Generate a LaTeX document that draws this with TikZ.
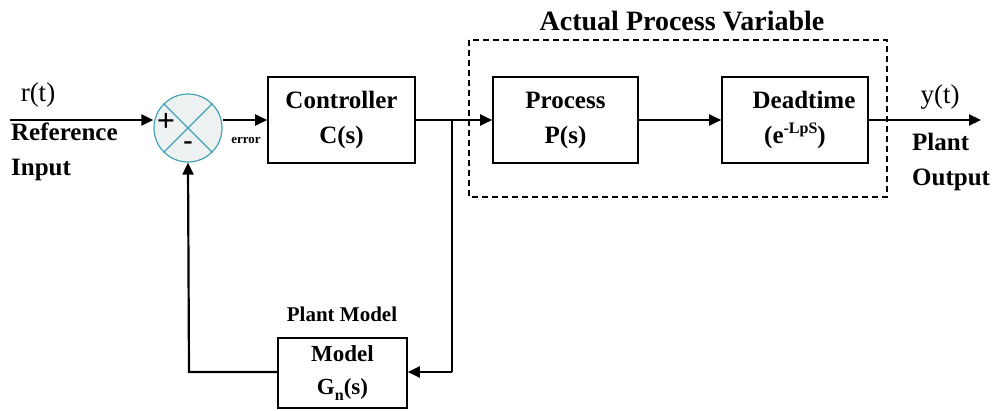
\documentclass[tikz,border=0pt]{standalone}
\usepackage{fontspec}
\setmainfont{Liberation Serif}[BoldFont={Liberation Serif Bold}]
\usetikzlibrary{arrows.meta,positioning}
\definecolor{junctionedge}{HTML}{45A3AE}
\definecolor{junctionfill}{HTML}{EEF1F1}
\tikzset{
  blk/.style={draw,line width=1.6pt,fill=white,align=center,inner sep=0pt,
    font=\fontsize{25}{35}\selectfont\bfseries},
  sig/.style={line width=2.2pt,-{Triangle[length=12pt,width=11pt]}},
  wire/.style={line width=2.2pt},
  lbl/.style={inner sep=0pt,font=\fontsize{25}{35}\selectfont\bfseries,align=left},
  sglbl/.style={inner sep=0pt,font=\fontsize{27}{30}\selectfont},
}
\begin{document}
\begin{tikzpicture}[x=1pt,y=-1pt]
\useasboundingbox (0,0) rectangle (999,410);

% dashed frame around the process and its dead time
\draw[line width=1.6pt,dash pattern=on 6pt off 4pt] (469,40) rectangle (887,197);
\node[inner sep=0pt,font=\fontsize{28}{30}\selectfont\bfseries] (title) at (682,21) {Actual Process Variable};

% summing junction
\node[circle,draw=junctionedge,fill=junctionfill,line width=1.2pt,minimum size=68pt,inner sep=0pt] (sum) at (188,128) {};
\draw[junctionedge,line width=1.2pt] (sum.45) -- (sum.225) (sum.135) -- (sum.315);
\node[inner sep=0pt,font=\fontsize{32}{30}\selectfont\bfseries] (plus) at (166,122) {+};
\node[inner sep=0pt,font=\fontsize{28}{30}\selectfont\bfseries] (minus) at (188,146) {-};
\node[inner sep=0pt,font=\fontsize{13}{14}\selectfont\bfseries] (err) at (246,140) {error};

% blocks
\node[blk,minimum width=147pt,minimum height=86pt] (ctrl) at (341.5,120) {Controller\\C(s)};
\node[blk,minimum width=145pt,minimum height=86pt] (proc) at (565.5,120) {Process\\P(s)};
\node[blk,minimum width=146pt,minimum height=86pt] (dead) at (795,120)
  {\hspace*{18pt}Deadtime\\(e\raisebox{0.42em}{\fontsize{16}{16}\selectfont -LpS})};
\node[blk,minimum width=129pt,minimum height=70pt,font=\fontsize{23}{33}\selectfont\bfseries] (model) at (342.5,373)
  {Model\\G\raisebox{-0.22em}{\fontsize{16}{16}\selectfont n}(s)};
\node[inner sep=0pt,font=\fontsize{21}{24}\selectfont\bfseries] (pm) at (342,314) {Plant Model};

% end points and branch point
\coordinate (in) at (10,120);
\coordinate (out) at (981,120);
\coordinate (br) at (452,120);
\coordinate (brlow) at (452,372);
\coordinate (fbcorner) at (189,372);

% signal connectors
\draw[sig] (in) -- (in -| sum.west);
\draw[sig] (sum.east |- in) -- (ctrl.west |- in);
\draw[sig] (ctrl.east |- in) -- (proc.west |- in);
\draw[sig] (proc.east |- in) -- (dead.west |- in);
\draw[sig] (dead.east |- in) -- (out);
\draw[wire] (br) -- (brlow);
\draw[sig] (brlow) -- (model.east |- brlow);
\draw[sig] (model.west |- fbcorner) -- (fbcorner) -- (sum.south);

% signal labels
\node[sglbl] (rt) at (38,95) {r(t)};
\node[lbl,anchor=west] (refin) at (11,152) {Reference\\Input};
\node[sglbl] (yt) at (940,97) {y(t)};
\node[lbl,anchor=west] (plout) at (912,162) {Plant\\Output};
\end{tikzpicture}
\end{document}
